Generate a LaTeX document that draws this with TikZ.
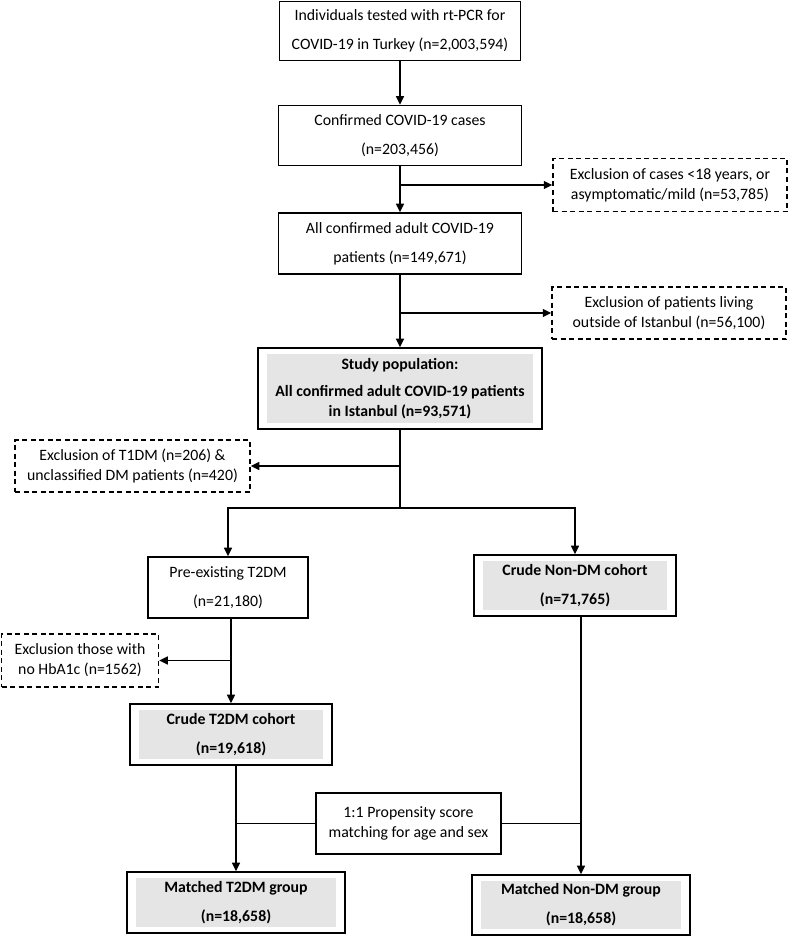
\documentclass[tikz,border=0pt]{standalone}
\usepackage{fontspec}
\setmainfont{Carlito}
\usetikzlibrary{arrows.meta,calc}
\begin{document}
\begin{tikzpicture}[x=1pt,y=-1pt,
  font=\fontsize{15.8}{20}\selectfont,
  box/.style={draw, line width=1.7pt, align=center, inner sep=0pt},
  dbox/.style={draw, line width=1.5pt, dash pattern=on 5pt off 3.5pt, align=center, inner sep=0pt},
  greyfill/.style={font=\fontsize{15.8}{20}\selectfont\bfseries,
    path picture={\fill[black!10] ($(path picture bounding box.south west)+(9,-6)$) rectangle ($(path picture bounding box.north east)+(-9,6)$);}},
  arr/.style={line width=1.5pt, -{Triangle[length=8.5pt,width=8pt]}},
  ln/.style={line width=1.5pt}
]
\useasboundingbox (0,0) rectangle (788,936);

\node[box, minimum width=241, minimum height=59] (b1) at (400,31) {Individuals tested with rt-PCR for\\[9pt]COVID-19 in Turkey (n=2,003,594)};
\node[box, minimum width=243, minimum height=60] (b2) at (400,135.5) {Confirmed COVID-19 cases\\[9pt](n=203,456)};
\node[dbox, minimum width=234, minimum height=53] (ex1) at (670,185) {Exclusion of cases {<}18 years, or\\asymptomatic/mild (n=53,785)};
\node[box, minimum width=243, minimum height=61] (b4) at (400,243.5) {All confirmed adult COVID-19\\[9pt]patients (n=149,671)};
\node[dbox, minimum width=234, minimum height=52] (ex2) at (669,313) {Exclusion of patients living\\outside of Istanbul (n=56,100)};
\node[box, greyfill, minimum width=284, minimum height=81] (sp) at (400,388.5) {Study population:\\[7pt]All confirmed adult COVID-19 patients\\in Istanbul (n=93,571)};
\node[dbox, minimum width=235, minimum height=52] (ex3) at (132.5,466) {Exclusion of T1DM (n=206) \&\\unclassified DM patients (n=420)};
\node[box, minimum width=160, minimum height=61] (pre) at (228,587.5) {Pre-existing T2DM\\[9pt](n=21,180)};
\node[box, greyfill, minimum width=202, minimum height=61] (cnon) at (575,585.5) {Crude Non-DM cohort\\[9pt](n=71,765)};
\node[dbox, minimum width=157, minimum height=53] (ex4) at (80,660.5) {Exclusion those with\\no HbA1c (n=1562)};
\node[box, greyfill, minimum width=202, minimum height=61] (ct2) at (231,734.5) {Crude T2DM cohort\\[9pt](n=19,618)};
\node[box, minimum width=185, minimum height=61] (prop) at (408.5,823.5) {1:1 Propensity score\\matching for age and sex};
\node[box, greyfill, minimum width=218, minimum height=61] (mt2) at (236,902.5) {Matched T2DM group\\[9pt](n=18,658)};
\node[box, greyfill, minimum width=218, minimum height=60] (mnon) at (581,905) {Matched Non-DM group\\[9pt](n=18,658)};

\coordinate (split) at (400,508);

\draw[arr] (b1) -- (b2);
\draw[arr] (b2) -- (b4);
\draw[arr] (b2.south |- ex1.west) -- (ex1.west);
\draw[arr] (b4) -- (sp);
\draw[arr] (b4.south |- ex2.west) -- (ex2.west);
\draw[ln] (sp.south) -- (split);
\draw[arr] (sp.south |- ex3.east) -- (ex3.east);
\draw[arr] (split) -| (pre);
\draw[arr] (split) -| (cnon);
\draw[arr] (pre.south -| ct2.north) -- (ct2.north);
\draw[arr] (ct2.north |- ex4.east) -- (ex4.east);
\draw[arr] (ct2.south -| mt2.north) -- (mt2.north);
\draw[ln] (prop.west) -- (prop.west -| mt2.north);
\draw[arr] (cnon.south -| mnon.north) -- (mnon.north);
\draw[ln] (prop.east) -- (prop.east -| mnon.north);
\end{tikzpicture}
\end{document}
